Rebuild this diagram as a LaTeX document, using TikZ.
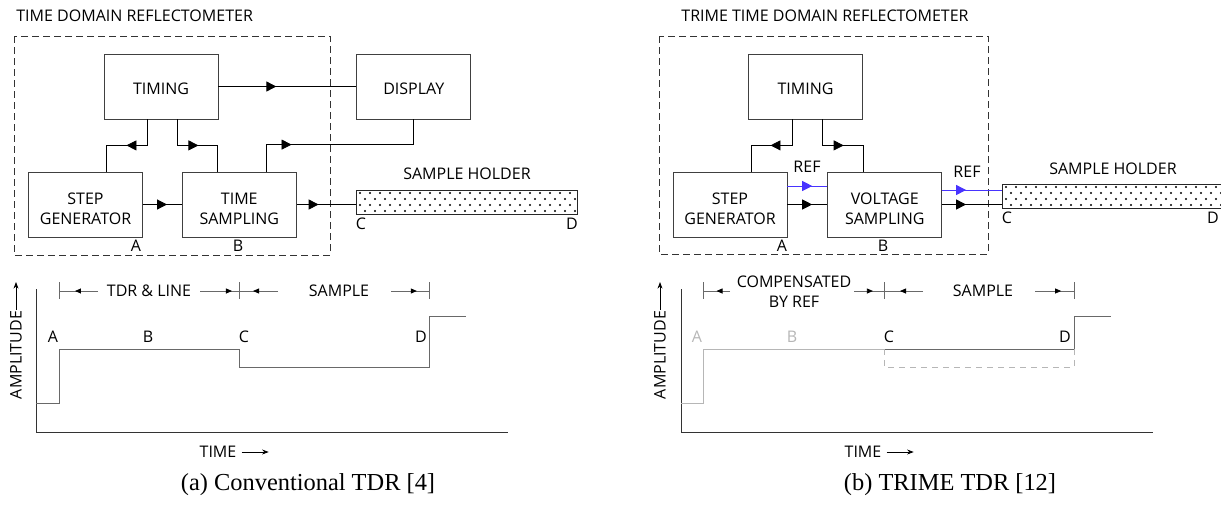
\documentclass[tikz,border=0pt]{standalone}
\usepackage{fontspec}
\setmainfont{Open Sans}
\newfontfamily\capfont{Liberation Serif}
\usetikzlibrary{arrows.meta,positioning,decorations.markings}
\definecolor{refblue}{RGB}{72,52,255}
\definecolor{wavegray}{RGB}{105,105,105}
\definecolor{fadegray}{RGB}{182,182,182}
\tikzset{midtip/.style={postaction={decorate},decoration={markings,mark=at position #1 with {\arrow{Triangle[length=10pt,width=10pt]}}}},
  dimtip/.style={postaction={decorate},decoration={markings,mark=at position #1 with {\arrow{Triangle[length=6pt,width=5pt,color=black]}}}}}

\begin{document}
\begin{tikzpicture}[x=1pt,y=-1pt,>=Stealth,line width=0.8pt,every node/.style={font=\fontsize{16}{20}\selectfont}]
\tikzstyle{box}=[draw=black!75,minimum width=114pt,minimum height=65pt,align=center,inner sep=0pt,execute at begin node={\rule{0pt}{15.5pt}}]
\tikzstyle{twoline}=[execute at begin node={\rule{0pt}{41pt}}]
\tikzstyle{holder}=[draw=black!85,fill=white,minimum height=24pt,inner sep=0pt]
\tikzstyle{frame}=[draw=black!80,dash pattern=on 7pt off 4pt]
\tikzstyle{lbl}=[inner sep=1pt]
\useasboundingbox (0,0) rectangle (1221,504);

% (a) conventional TDR
\node[lbl,anchor=west] (ttlA) at (15,16) {TIME DOMAIN REFLECTOMETER};
\draw[frame] (14,36) rectangle (330,255);
\node[box] (tmgA) at (161,86.5) {TIMING};
\node[box,right=138pt of tmgA] (dispA) {DISPLAY};
\node[box,twoline] (stepA) at (85.5,204.5) {STEP\\GENERATOR};
\node[box,twoline,right=39pt of stepA] (sampA) {TIME\\SAMPLING};
\node[lbl] (ptA) at (136,246) {A};
\node[lbl] (ptB) at (238,246) {B};
\node[holder,anchor=west,minimum width=221pt] (holdA) at (356,202) {};
\foreach \r in {0,...,3}{\foreach \i in {0,...,21}{\fill ({360+10*\i+5*mod(\r,2)},{193+6*\r}) circle (1.1pt);}}
\node[lbl] (hlblA) at (467,174) {SAMPLE HOLDER};
\node[lbl] (ptC) at (361,224) {C};
\node[lbl] (ptD) at (572,224) {D};
\draw[midtip=0.42] (tmgA) -- (dispA);
\draw[midtip=0.62] (stepA) -- (sampA);
\draw[midtip=0.37] (sampA) -- (sampA -| holdA.west);
\draw[midtip=0.5] ([xshift=-14pt]tmgA.south) -- ++(0,26) -| ([xshift=20.5pt]stepA.north);
\draw[midtip=0.51] ([xshift=16pt]tmgA.south) -- ++(0,26) -| ([xshift=-21.5pt]sampA.north);
\draw[midtip=0.26] ([xshift=27.5pt]sampA.north) -- ++(0,-27) -| (dispA.south);

% waveform (a)
\draw[black!80] (36,289) -- (36,432) -- (508,432);
\node[lbl,rotate=90] (ampA) at (16,355) {AMPLITUDE};
\draw[->] (ampA.east) -- (16,282);
\node[lbl] (timeA) at (218,452) {TIME};
\draw[->] ([xshift=4pt]timeA.east) -- ++(27,0);
\draw[wavegray] (36,403) -- (59,403) -- (59,349) -- (239,349) -- (239,367) -- (429,367) -- (429,316) -- (466,316);
\node[lbl] (wA) at (53,337) {A};
\node[lbl] (wB) at (148,337) {B};
\node[lbl] (wC) at (244,337) {C};
\node[lbl] (wD) at (421,337) {D};
\draw[wavegray] (59,282) -- (59,299) (239,282) -- (239,299) (429,282) -- (429,299);
\node[lbl] (dimA1) at (149,291) {TDR \& LINE};
\node[lbl] (dimA2) at (339,291) {SAMPLE};
\draw[wavegray,dimtip=0.59] (98,291) -- (59,291);
\draw[wavegray,dimtip=0.82] (200,291) -- (239,291);
\draw[wavegray,dimtip=0.64] (278,291) -- (239,291);
\draw[wavegray,dimtip=0.68] (391,291) -- (429,291);
\node[font=\capfont\fontsize{24.4}{28}\selectfont] (capA) at (308,485) {(a) Conventional TDR [4]};

% (b) TRIME TDR
\node[lbl,anchor=west] (ttlB) at (680,16) {TRIME TIME DOMAIN REFLECTOMETER};
\draw[frame] (659,36) rectangle (988,254);
\node[box] (tmgB) at (805.5,86.5) {TIMING};
\node[box,twoline] (stepB) at (730,204.5) {STEP\\GENERATOR};
\node[box,twoline,right=40pt of stepB] (sampB) {VOLTAGE\\SAMPLING};
\node[lbl] (qtA) at (782,246) {A};
\node[lbl] (qtB) at (883,246) {B};
\node[holder,anchor=west,minimum width=225pt] (holdB) at (1002,196) {};
\foreach \r in {0,...,3}{\foreach \i in {0,...,21}{\fill ({1006+10*\i+5*mod(\r,2)},{187+6*\r}) circle (1.1pt);}}
\node[lbl] (hlblB) at (1113,169) {SAMPLE HOLDER};
\node[lbl] (qtC) at (1007,218) {C};
\node[lbl] (qtD) at (1213,218) {D};
\node[lbl] (refB1) at (807,167) {REF};
\node[lbl] (refB2) at (967,172) {REF};
\draw[refblue,midtip=0.62] ([yshift=18.5pt]stepB.east) -- ([yshift=18.5pt]sampB.west);
\draw[midtip=0.62] (stepB) -- (sampB);
\draw[refblue,midtip=0.4] ([yshift=14.5pt]sampB.east) -- ([yshift=6pt]holdB.west);
\draw[midtip=0.4] (sampB) -- (sampB -| holdB.west);
\draw[midtip=0.51] ([xshift=-13.5pt]tmgB.south) -- ++(0,26) -| ([xshift=21pt]stepB.north);
\draw[midtip=0.51] ([xshift=16.5pt]tmgB.south) -- ++(0,26) -| ([xshift=-21.5pt]sampB.north);

% waveform (b)
\draw[black!80] (681,289) -- (681,432) -- (1153,432);
\node[lbl,rotate=90] (ampB) at (660,355) {AMPLITUDE};
\draw[->] (ampB.east) -- (660,282);
\node[lbl] (timeB) at (863,452) {TIME};
\draw[->] ([xshift=4pt]timeB.east) -- ++(27,0);
\draw[fadegray] (681,403) -- (703,403) -- (703,349) -- (884,349);
\draw[wavegray] (884,349) -- (1074,349) -- (1074,316) -- (1111,316);
\draw[fadegray,dash pattern=on 6pt off 5pt] (884,349) -- (884,367) -- (1074,367) -- (1074,349);
\node[lbl,text=fadegray] (vA) at (697,337) {A};
\node[lbl,text=fadegray] (vB) at (792,337) {B};
\node[lbl] (vC) at (889,337) {C};
\node[lbl] (vD) at (1065,337) {D};
\draw[wavegray] (703,282) -- (703,299) (884,282) -- (884,299) (1074,282) -- (1074,299);
\node[lbl,align=center] (dimB1) at (794,292) {COMPENSATED\\BY REF};
\node[lbl] (dimB2) at (983,291) {SAMPLE};
\draw[wavegray,dimtip=0.5] (730,291) -- (703,291);
\draw[wavegray,dimtip=0.63] (854,291) -- (884,291);
\draw[wavegray,dimtip=0.59] (923,291) -- (884,291);
\draw[wavegray,dimtip=0.67] (1035,291) -- (1074,291);
\node[font=\capfont\fontsize{24.4}{28}\selectfont] (capB) at (950,485) {(b) TRIME TDR [12]};
\end{tikzpicture}
\end{document}
